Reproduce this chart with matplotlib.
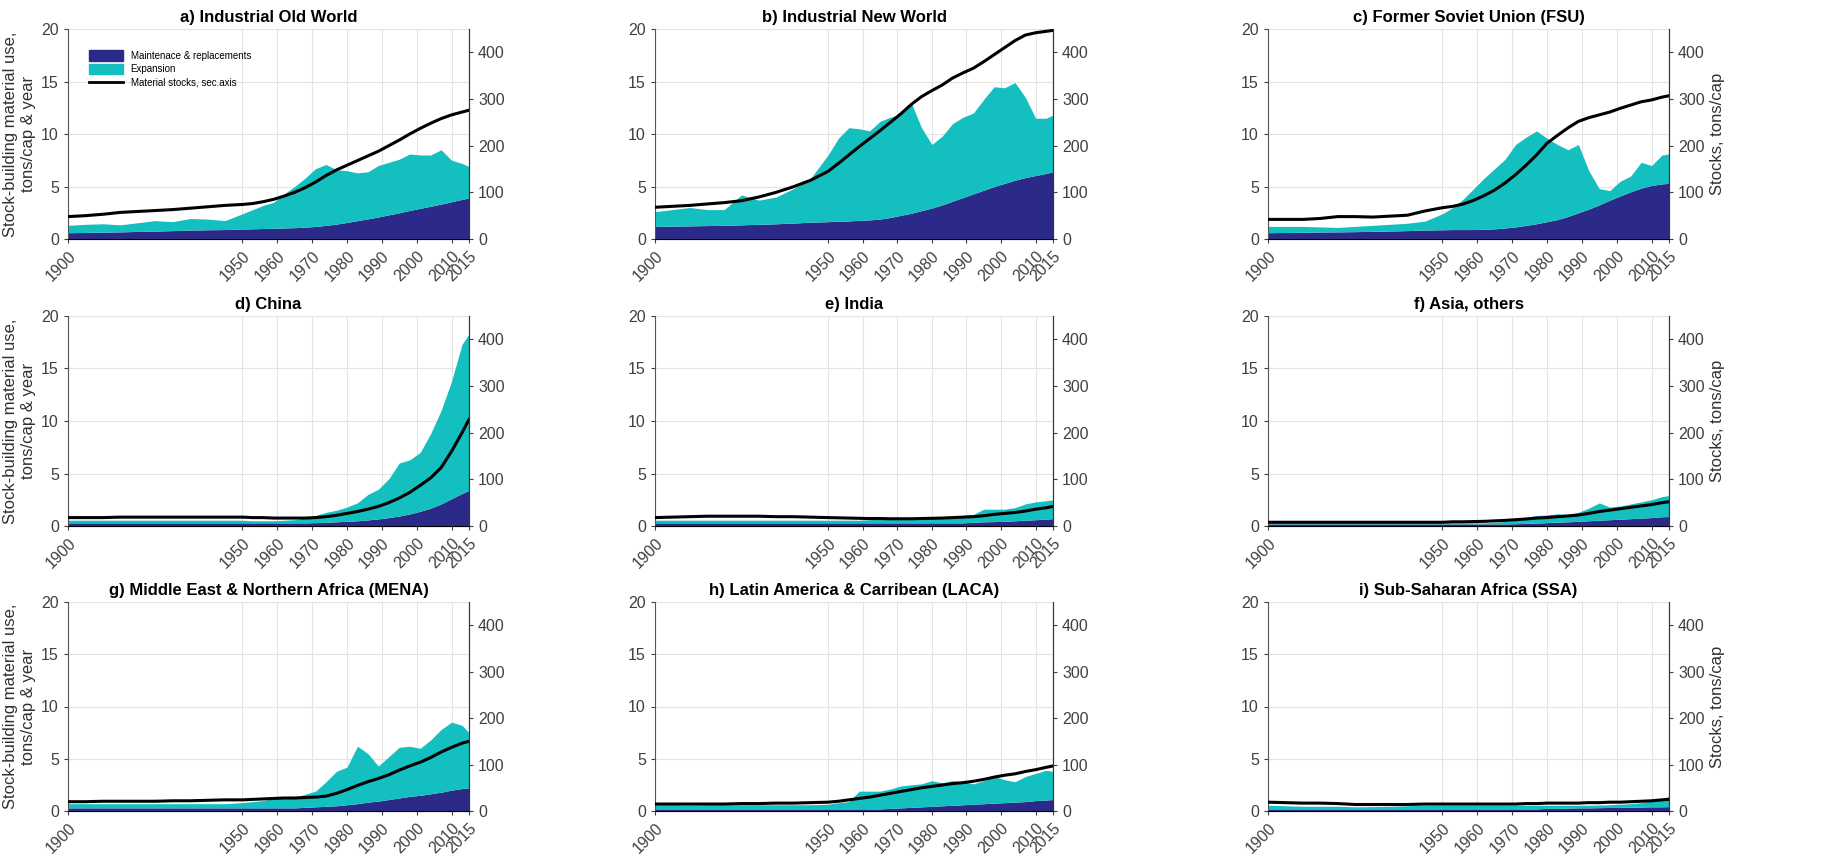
import matplotlib
matplotlib.use("Agg")
import matplotlib.pyplot as plt
from matplotlib.patches import Patch
from matplotlib.lines import Line2D

plt.rcParams["font.family"] = ["Liberation Sans", "DejaVu Sans"]

years = [1900, 1905, 1910, 1915, 1920, 1925, 1930, 1935, 1940, 1945,
         1950, 1953, 1956, 1959, 1962, 1965, 1968, 1971, 1974, 1977,
         1980, 1983, 1986, 1989, 1992, 1995, 1998, 2001, 2004, 2007,
         2010, 2013, 2015]
xticks = [1900, 1950, 1960, 1970, 1980, 1990, 2000, 2010, 2015]

titles = ["a) Industrial Old World", "b) Industrial New World", "c) Former Soviet Union (FSU)",
          "d) China", "e) India", "f) Asia, others",
          "g) Middle East & Northern Africa (MENA)", "h) Latin America & Carribean (LACA)",
          "i) Sub-Saharan Africa (SSA)"]

# maintenance = lower band, total = top of expansion band, stock = sec. axis
iow_maint = [0.60, 0.62, 0.65, 0.68, 0.72, 0.75, 0.80, 0.85, 0.88, 0.90,
             0.95, 0.97, 1.00, 1.02, 1.05, 1.08, 1.12, 1.20, 1.30, 1.42,
             1.58, 1.75, 1.92, 2.10, 2.30, 2.50, 2.72, 2.92, 3.12, 3.33,
             3.55, 3.78, 3.90]
iow_total = [1.30, 1.40, 1.45, 1.35, 1.55, 1.75, 1.65, 1.95, 1.90, 1.75,
             2.40, 2.80, 3.20, 3.50, 4.30, 5.00, 5.80, 6.70, 7.10, 6.60,
             6.50, 6.30, 6.40, 7.00, 7.30, 7.60, 8.10, 8.00, 8.00, 8.50,
             7.50, 7.20, 6.90]
iow_stock = [48, 50, 53, 57, 59, 61, 63, 66, 69, 72,
             74, 76, 80, 85, 92, 100, 110, 122, 136, 148,
             158, 168, 178, 188, 200, 212, 225, 237, 248, 258,
             266, 272, 276]

inw_maint = [1.20, 1.22, 1.25, 1.28, 1.30, 1.35, 1.40, 1.45, 1.52, 1.60,
             1.65, 1.70, 1.72, 1.78, 1.82, 1.90, 2.05, 2.25, 2.45, 2.70,
             2.95, 3.25, 3.60, 3.95, 4.30, 4.65, 5.00, 5.30, 5.60, 5.85,
             6.05, 6.25, 6.40]
inw_total = [2.60, 2.80, 3.00, 2.80, 2.80, 4.20, 3.70, 4.00, 4.80, 5.80,
             8.00, 9.60, 10.60, 10.50, 10.30, 11.20, 11.60, 11.90, 13.00, 10.60,
             9.00, 9.80, 11.00, 11.60, 12.00, 13.30, 14.50, 14.40, 14.90, 13.50,
             11.50, 11.50, 11.80]
inw_stock = [68, 70, 72, 75, 78, 82, 90, 100, 112, 126,
             145, 162, 180, 198, 215, 232, 250, 268, 288, 305,
             318, 330, 345, 356, 366, 380, 395, 410, 425, 437,
             442, 445, 447]

fsu_maint = [0.60, 0.62, 0.64, 0.66, 0.68, 0.70, 0.73, 0.76, 0.80, 0.85,
             0.88, 0.90, 0.90, 0.90, 0.92, 0.97, 1.05, 1.15, 1.30, 1.45,
             1.65, 1.85, 2.15, 2.50, 2.85, 3.25, 3.70, 4.10, 4.50, 4.85,
             5.10, 5.25, 5.30]
fsu_total = [1.20, 1.20, 1.20, 1.15, 1.10, 1.20, 1.30, 1.40, 1.50, 1.70,
             2.40, 3.00, 3.80, 4.80, 5.80, 6.70, 7.60, 9.00, 9.70, 10.30,
             9.60, 9.00, 8.50, 9.00, 6.50, 4.80, 4.60, 5.50, 6.00, 7.30,
             7.00, 8.00, 8.10]
fsu_stock = [42, 42, 42, 44, 48, 48, 47, 49, 51, 60,
             67, 70, 75, 83, 93, 105, 120, 138, 158, 180,
             205, 222, 238, 252, 260, 266, 272, 280, 287, 294,
             298, 304, 307]

chn_maint = [0.30, 0.30, 0.30, 0.30, 0.30, 0.30, 0.30, 0.30, 0.30, 0.30,
             0.30, 0.30, 0.30, 0.30, 0.30, 0.30, 0.30, 0.32, 0.35, 0.40,
             0.45, 0.50, 0.58, 0.68, 0.80, 0.95, 1.15, 1.40, 1.70, 2.10,
             2.60, 3.10, 3.40]
chn_total = [0.55, 0.55, 0.55, 0.55, 0.55, 0.55, 0.55, 0.55, 0.55, 0.55,
             0.55, 0.50, 0.50, 0.50, 0.55, 0.60, 0.75, 1.00, 1.30, 1.50,
             1.80, 2.20, 3.00, 3.50, 4.50, 6.00, 6.30, 7.00, 8.80, 11.00,
             13.80, 17.30, 18.30]
chn_stock = [18, 18, 18, 19, 19, 19, 19, 19, 19, 19,
             19, 18, 18, 17, 17, 17, 17, 18, 20, 23,
             27, 31, 36, 42, 50, 60, 72, 87, 103, 125,
             160, 200, 228]

ind_maint = [0.30, 0.30, 0.30, 0.30, 0.30, 0.30, 0.30, 0.30, 0.30, 0.30,
             0.30, 0.30, 0.30, 0.30, 0.30, 0.30, 0.30, 0.30, 0.30, 0.30,
             0.30, 0.30, 0.30, 0.30, 0.35, 0.40, 0.42, 0.45, 0.50, 0.55,
             0.60, 0.65, 0.70]
ind_total = [0.55, 0.55, 0.55, 0.55, 0.55, 0.55, 0.55, 0.55, 0.55, 0.55,
             0.55, 0.55, 0.55, 0.55, 0.60, 0.65, 0.70, 0.70, 0.72, 0.75,
             0.80, 0.85, 0.90, 1.00, 1.10, 1.60, 1.60, 1.60, 1.75, 2.10,
             2.30, 2.40, 2.50]
ind_stock = [18, 19, 20, 21, 21, 21, 21, 20, 20, 19,
             18, 17.5, 17, 16.5, 16, 16, 15.5, 15.5, 15.5, 16,
             16.5, 17, 18, 19, 20, 22, 25, 27, 29, 32,
             36, 39, 42]

aso_maint = [0.20, 0.20, 0.20, 0.20, 0.20, 0.20, 0.20, 0.20, 0.20, 0.20,
             0.20, 0.20, 0.20, 0.20, 0.20, 0.20, 0.20, 0.22, 0.25, 0.28,
             0.32, 0.36, 0.40, 0.44, 0.50, 0.56, 0.60, 0.65, 0.70, 0.75,
             0.80, 0.88, 0.90]
aso_total = [0.30, 0.30, 0.30, 0.30, 0.30, 0.30, 0.30, 0.30, 0.30, 0.30,
             0.30, 0.30, 0.30, 0.30, 0.30, 0.35, 0.45, 0.55, 0.80, 1.00,
             1.05, 1.15, 1.10, 1.30, 1.70, 2.20, 1.80, 1.90, 2.10, 2.30,
             2.50, 2.80, 2.90]
aso_stock = [8, 8, 8, 8, 8, 8, 8, 8, 8, 8,
             8, 9, 9, 9.5, 10, 11, 12, 13.5, 15, 17,
             18, 20, 21.5, 23.5, 27, 31, 34, 37, 40, 43,
             46, 50, 52]

mena_maint = [0.30, 0.30, 0.30, 0.30, 0.30, 0.30, 0.30, 0.30, 0.30, 0.30,
              0.30, 0.30, 0.30, 0.30, 0.30, 0.30, 0.35, 0.40, 0.45, 0.50,
              0.60, 0.70, 0.85, 0.95, 1.10, 1.25, 1.40, 1.50, 1.65, 1.80,
              2.00, 2.15, 2.20]
mena_total = [0.70, 0.70, 0.70, 0.70, 0.70, 0.70, 0.70, 0.70, 0.70, 0.70,
              0.80, 0.90, 1.00, 1.20, 1.30, 1.30, 1.60, 1.90, 2.80, 3.80,
              4.20, 6.20, 5.50, 4.30, 5.20, 6.10, 6.20, 6.00, 6.80, 7.80,
              8.50, 8.20, 7.50]
mena_stock = [20, 20, 21, 21, 21, 21, 22, 22, 23, 24,
              24, 25, 26, 27, 28, 28, 29, 30, 32, 38,
              46, 55, 63, 70, 78, 88, 97, 105, 115, 127,
              137, 146, 150]

laca_maint = [0.20, 0.20, 0.20, 0.20, 0.20, 0.20, 0.20, 0.20, 0.20, 0.20,
              0.20, 0.20, 0.20, 0.20, 0.20, 0.20, 0.25, 0.30, 0.35, 0.40,
              0.45, 0.50, 0.55, 0.60, 0.65, 0.70, 0.75, 0.80, 0.85, 0.90,
              1.00, 1.05, 1.10]
laca_total = [0.60, 0.60, 0.55, 0.60, 0.60, 0.60, 0.60, 0.60, 0.60, 0.60,
              0.65, 0.80, 0.90, 1.90, 1.90, 1.90, 2.10, 2.40, 2.50, 2.60,
              2.90, 2.70, 2.90, 2.80, 2.60, 2.90, 3.30, 3.00, 2.80, 3.30,
              3.60, 3.90, 3.80]
laca_stock = [15, 15, 15, 15, 15, 16, 16, 17, 17, 18,
              19, 21, 24, 27, 30, 34, 38, 42, 46, 50,
              53, 56, 59, 61, 64, 68, 73, 77, 80, 85,
              89, 94, 97]

ssa_maint = [0.20, 0.20, 0.20, 0.20, 0.20, 0.20, 0.20, 0.20, 0.20, 0.20,
             0.20, 0.20, 0.20, 0.20, 0.20, 0.20, 0.20, 0.20, 0.20, 0.20,
             0.25, 0.25, 0.27, 0.30, 0.30, 0.32, 0.34, 0.35, 0.36, 0.38,
             0.40, 0.40, 0.42]
ssa_total = [0.55, 0.50, 0.45, 0.45, 0.45, 0.40, 0.42, 0.45, 0.50, 0.55,
             0.55, 0.55, 0.55, 0.55, 0.55, 0.55, 0.55, 0.55, 0.55, 0.55,
             0.55, 0.55, 0.55, 0.55, 0.55, 0.58, 0.60, 0.65, 0.70, 0.80,
             1.00, 1.20, 1.40]
ssa_stock = [19, 18, 17, 17, 16, 14, 14, 14, 14, 15,
             15, 15, 15, 15, 15, 15, 15, 15, 16, 16,
             17, 17, 17, 17, 18, 18, 19, 19, 20, 21,
             22, 24, 25]

maints = [iow_maint, inw_maint, fsu_maint, chn_maint, ind_maint, aso_maint, mena_maint, laca_maint, ssa_maint]
totals = [iow_total, inw_total, fsu_total, chn_total, ind_total, aso_total, mena_total, laca_total, ssa_total]
stocks = [iow_stock, inw_stock, fsu_stock, chn_stock, ind_stock, aso_stock, mena_stock, laca_stock, ssa_stock]

navy = "#2B2A88"
cyan = "#14BFC0"
tickcol = "#404040"

W, H = 1821, 856
fig = plt.figure(figsize=(W / 100, H / 100), dpi=100)

lefts = [68, 655, 1268]
widths = [401, 398, 401]
tops = [29, 316, 602]
bottoms = [239, 526, 811]

for i in range(9):
    r, c = i // 3, i % 3
    ax = fig.add_axes([lefts[c] / W, 1 - bottoms[r] / H, widths[c] / W, (bottoms[r] - tops[r]) / H])
    ax.fill_between(years, 0, maints[i], color=navy, lw=0)
    ax.fill_between(years, maints[i], totals[i], color=cyan, lw=0)
    ax.set_xlim(1900, 2015)
    ax.set_ylim(0, 20)
    ax.set_xticks(xticks)
    ax.set_xticklabels([str(x) for x in xticks], rotation=45, ha="right", rotation_mode="anchor")
    ax.set_yticks([0, 5, 10, 15, 20])
    ax.grid(True, color="#e3e3e3", lw=0.8)
    ax.set_axisbelow(True)
    ax.tick_params(colors=tickcol, labelsize=11.5, length=3, direction="out")
    ax.spines["top"].set_visible(False)
    for s in ["left", "bottom", "right"]:
        ax.spines[s].set_color("#555555")
    ax.set_title(titles[i], fontsize=12, fontweight="bold", pad=5)

    ax2 = ax.twinx()
    ax2.plot(years, stocks[i], color="black", lw=2.2)
    ax2.set_ylim(0, 450)
    ax2.set_yticks([0, 100, 200, 300, 400])
    ax2.tick_params(colors=tickcol, labelsize=11.5, length=3, direction="out")
    ax2.spines["top"].set_visible(False)
    ax2.spines["right"].set_color("#333333")
    ax2.spines["left"].set_visible(False)

    if c == 0:
        ax.set_ylabel("Stock-building material use,\ntons/cap & year", fontsize=12, color="#303030")
    if c == 2:
        ax2.set_ylabel("Stocks, tons/cap", fontsize=12, color="#303030")

    if i == 0:
        handles = [Patch(color=navy), Patch(color=cyan), Line2D([], [], color="black", lw=2)]
        labels = ["Maintenace & replacements", "Expansion", "Material stocks, sec.axis"]
        ax.legend(handles, labels, loc="upper left", bbox_to_anchor=(0.03, 0.94), fontsize=7,
                  frameon=False, handlelength=3.5, handleheight=1.3, labelspacing=0.3)

fig.savefig("out.png", dpi=100)
